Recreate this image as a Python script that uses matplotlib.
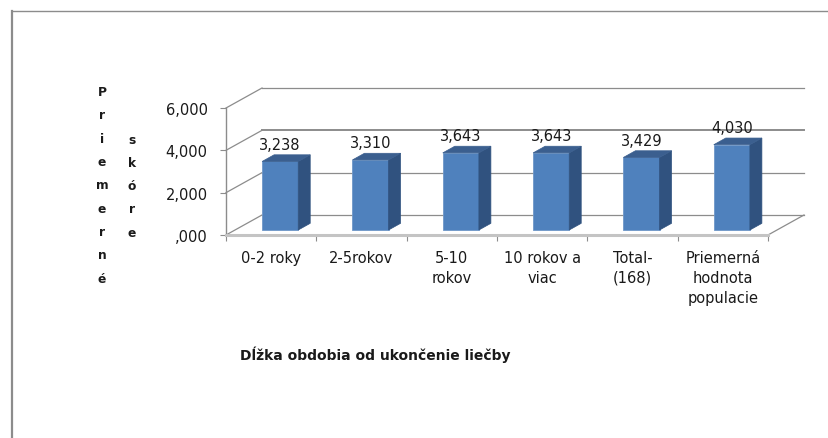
import matplotlib
matplotlib.use("Agg")
import matplotlib.pyplot as plt
from matplotlib.patches import Polygon
from matplotlib.ticker import FuncFormatter, FixedLocator

categories = ['0-2 roky', '2-5rokov', '5-10\nrokov', '10 rokov a\nviac',
              'Total-\n(168)', 'Priemerná\nhodnota\npopulacie']
values = [3.238, 3.310, 3.643, 3.643, 3.429, 4.030]
y_ticks = [0, 2, 4, 6]
x_title = 'Dĺžka obdobia od ukončenie liečby'
y_title_1 = 'Priemerné'
y_title_2 = 'skóre'


def fmt(v, pos=None):
    s = '{:.3f}'.format(v).replace('.', ',')
    return s[1:] if s.startswith('0') else s


W, H = 829, 439
fig = plt.figure(figsize=(W / 100, H / 100), dpi=100)

# outer frame like the excel chart area
fig.add_artist(plt.Line2D([12 / W, 12 / W], [0, 1 - 12 / H], color='#8c8c8c', lw=1.6))
fig.add_artist(plt.Line2D([12 / W, 1], [1 - 12 / H, 1 - 12 / H], color='#8c8c8c', lw=1.0))

ax = fig.add_axes([226 / W, (H - 236) / H, 542 / W, 127 / H])
ax.set_xlim(-0.5, len(values) - 0.5)
ax.set_ylim(0, 6)

# depth of the 3d box in data units
ddx, ddy = 0.3985, 0.945
x0, x1 = -0.5, len(values) - 0.5

# back wall + side walls
grid_col = '#8c8c8c'
for g in y_ticks:
    lw = 1.4 if g == 4 else 0.9
    ax.plot([x0 + ddx, x1 + ddx], [g + ddy, g + ddy], color=grid_col, lw=lw, clip_on=False, zorder=1)
    ax.plot([x0, x0 + ddx], [g, g + ddy], color=grid_col, lw=0.9, clip_on=False, zorder=1)
ax.plot([x1, x1 + ddx], [0, ddy], color=grid_col, lw=0.9, clip_on=False, zorder=1)

# bars: front faces via ax.bar, then side and top faces
f0, fd = 0.25, 0.333
bw = 0.4
xs = [i + f0 * ddx for i in range(len(values))]
base = f0 * ddy
ax.bar(xs, values, width=bw, bottom=base, color='#4f81bd', edgecolor='#6f97c8',
       lw=0.6, zorder=3, clip_on=False)
for xc, v in zip(xs, values):
    xl, xr = xc - bw / 2, xc + bw / 2
    top = base + v
    side = Polygon([(xr, base), (xr, top), (xr + fd * ddx, top + fd * ddy),
                    (xr + fd * ddx, base + fd * ddy)],
                   closed=True, fc='#30527f', ec='#30527f', lw=0.5, zorder=3, clip_on=False)
    lid = Polygon([(xl, top), (xr, top), (xr + fd * ddx, top + fd * ddy),
                   (xl + fd * ddx, top + fd * ddy)],
                  closed=True, fc='#3b5f8f', ec='#3b5f8f', lw=0.5, zorder=3, clip_on=False)
    ax.add_patch(side)
    ax.add_patch(lid)
    ax.annotate(fmt(v), (xc, top), xytext=(0, 17), textcoords='offset pixels',
                ha='center', va='center', fontsize=10.5, color='#1a1a1a', zorder=5)

# axes
for s in ['top', 'right']:
    ax.spines[s].set_visible(False)
ax.spines['left'].set_color('#8c8c8c')
ax.spines['left'].set_linewidth(1.0)
ax.spines['bottom'].set_color('#c4c4c4')
ax.spines['bottom'].set_linewidth(2.2)
ax.spines['bottom'].set_zorder(4)

ax.set_yticks(y_ticks)
ax.yaxis.set_major_formatter(FuncFormatter(fmt))
ax.tick_params(axis='y', length=4.3, width=0.8, color='#8c8c8c', pad=9, labelsize=10.5,
               labelcolor='#1a1a1a')

ax.set_xticks(range(len(values)))
ax.set_xticklabels(categories)
ax.xaxis.set_minor_locator(FixedLocator([i - 0.5 for i in range(len(values) + 1)]))
ax.tick_params(axis='x', which='major', length=0, pad=10.5, labelsize=10.5, labelcolor='#1a1a1a')
ax.tick_params(axis='x', which='minor', length=4.3, width=0.8, color='#8c8c8c')
for lab in ax.get_xticklabels():
    lab.set_linespacing(1.45)
    lab.set_verticalalignment('top')

# titles
fig.text(375 / W, 1 - 355 / H, x_title, ha='center', va='center', fontsize=10,
         fontweight='bold', color='#1a1a1a')
step = 23.3
for k, ch in enumerate(y_title_1):
    fig.text(102 / W, 1 - (92.7 + k * step) / H, ch, ha='center', va='center',
             fontsize=8.8, fontweight='bold', color='#1a1a1a')
for k, ch in enumerate(y_title_2):
    fig.text(132 / W, 1 - (140 + k * step) / H, ch, ha='center', va='center',
             fontsize=8.8, fontweight='bold', color='#1a1a1a')

fig.savefig('out.png', dpi=100, facecolor='white')
